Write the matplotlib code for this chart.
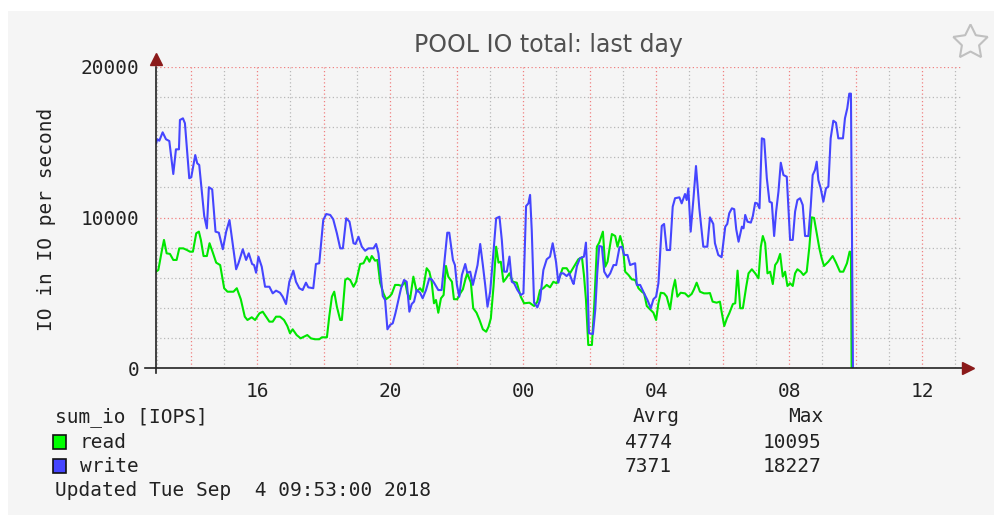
import matplotlib
matplotlib.use('Agg')
import matplotlib.pyplot as plt
from matplotlib.patches import Rectangle

# hours relative to 00:00 on Sep 4, values in IOPS
write_t = [-11.04, -11.00, -10.94, -10.84, -10.74, -10.64, -10.52, -10.44, -10.35, -10.32,
           -10.23, -10.17, -10.04, -9.98, -9.86, -9.80, -9.74, -9.59, -9.51, -9.45,
           -9.35, -9.25, -9.15, -9.03, -8.93, -8.83, -8.75, -8.63, -8.56, -8.43,
           -8.33, -8.25, -8.15, -8.09, -8.03, -7.96, -7.86, -7.76, -7.63, -7.53,
           -7.43, -7.31, -7.23, -7.13, -7.03, -6.91, -6.83, -6.73, -6.63, -6.53,
           -6.46, -6.31, -6.23, -6.13, -6.01, -5.92, -5.80, -5.71, -5.60, -5.50,
           -5.42, -5.32, -5.22, -5.10, -5.04, -4.95, -4.85, -4.75, -4.65, -4.50,
           -4.42, -4.35, -4.22, -4.15, -4.08, -4.00, -3.92, -3.84, -3.75, -3.67,
           -3.58, -3.50, -3.42, -3.35, -3.28, -3.20, -3.10, -3.02, -2.92, -2.82,
           -2.75, -2.68, -2.55, -2.45, -2.35, -2.28, -2.22, -2.11, -2.05, -1.99,
           -1.92, -1.84, -1.74, -1.68, -1.59, -1.51, -1.44, -1.37, -1.29, -1.21,
           -1.14, -1.07, -0.99, -0.89, -0.81, -0.71, -0.64, -0.57, -0.49, -0.41,
           -0.34, -0.27, -0.17, -0.07, 0.01, 0.09, 0.16, 0.21, 0.26, 0.33,
           0.43, 0.51, 0.61, 0.71, 0.81, 0.89, 0.99, 1.06, 1.13, 1.21,
           1.31, 1.39, 1.49, 1.52, 1.62, 1.71, 1.83, 1.89, 1.93, 1.98,
           2.10, 2.17, 2.23, 2.29, 2.37, 2.44, 2.54, 2.62, 2.72, 2.80,
           2.90, 2.97, 3.04, 3.14, 3.22, 3.30, 3.37, 3.42, 3.52, 3.64,
           3.74, 3.84, 3.92, 4.00, 4.07, 4.17, 4.24, 4.32, 4.42, 4.50,
           4.57, 4.70, 4.77, 4.87, 4.92, 4.97, 5.04, 5.12, 5.20, 5.30,
           5.42, 5.54, 5.62, 5.72, 5.77, 5.87, 5.97, 6.08, 6.14, 6.20,
           6.28, 6.35, 6.41, 6.48, 6.58, 6.63, 6.68, 6.75, 6.85, 6.91,
           6.98, 7.04, 7.11, 7.18, 7.25, 7.33, 7.41, 7.48, 7.55, 7.61,
           7.68, 7.75, 7.83, 7.93, 8.03, 8.11, 8.18, 8.25, 8.33, 8.41,
           8.48, 8.58, 8.65, 8.71, 8.78, 8.83, 8.88, 8.95, 9.03, 9.11,
           9.18, 9.25, 9.33, 9.41, 9.48, 9.62, 9.68, 9.75, 9.81, 9.86,
           9.92]
write_v = [14930, 15200, 15100, 15660, 15200, 15080, 12890, 14530, 14530, 16480,
           16590, 16260, 12610, 12670, 14150, 13600, 13490, 10100, 9280, 12010,
           11870, 9060, 8990, 7890, 9060, 9830, 8510, 6560, 6960, 7890,
           7180, 7620, 6910, 6840, 6330, 7400, 6730, 5400, 5400, 4960,
           5140, 5000, 4740, 4250, 5730, 6470, 5730, 5300, 5180, 5670,
           5360, 5300, 6910, 6960, 9830, 10230, 10170, 9880, 8950, 7950,
           7950, 9950, 9720, 8290, 8240, 8720, 8060, 7790, 7950, 7950,
           8240, 7620, 4780, 4520, 2570, 2860, 2970, 3630, 4520, 5300,
           5850, 5730, 3740, 4250, 4410, 5180, 5000, 4630, 5180, 5960,
           5890, 5670, 5180, 5180, 7400, 8990, 8990, 7180, 6840, 5520,
           4740, 6180, 6910, 6330, 6400, 5520, 6180, 6840, 8240, 6840,
           5520, 4070, 5070, 7730, 9950, 10050, 8510, 6400, 6400, 7400,
           5730, 5630, 5180, 4850, 4960, 10760, 10940, 11500, 9170, 4340,
           4030, 4520, 6510, 7220, 7400, 8290, 7060, 5670, 6290, 6290,
           6110, 6290, 5700, 5580, 6780, 7290, 7400, 8330, 6290, 2310,
           2260, 3850, 6290, 8110, 8060, 6400, 6030, 6290, 6840, 6840,
           8020, 8060, 7510, 7510, 6840, 6910, 6960, 5520, 5520, 4960,
           4520, 3970, 4570, 4740, 5630, 9440, 9570, 7840, 7840, 10720,
           11280, 11340, 10940, 11560, 11160, 11940, 9060, 11160, 13420, 10610,
           8060, 8060, 10010, 9570, 8290, 7510, 7360, 9390, 9570, 10280,
           10610, 10550, 9220, 8390, 9390, 9280, 10170, 9720, 9660, 10100,
           10980, 10940, 10610, 15260, 15200, 12610, 11050, 10980, 8770, 10390,
           11720, 13640, 12820, 12710, 8510, 8510, 10390, 11160, 11280, 10830,
           8770, 8770, 10720, 12820, 13160, 13710, 12490, 11940, 11050, 11940,
           12050, 15260, 16430, 16300, 15260, 15260, 16590, 17260, 18230, 18230,
           0]

read_t = [-11.04, -10.97, -10.87, -10.80, -10.72, -10.62, -10.52, -10.42, -10.34, -10.22,
          -10.11, -10.02, -9.93, -9.83, -9.75, -9.69, -9.61, -9.51, -9.43, -9.33,
          -9.23, -9.11, -8.99, -8.89, -8.71, -8.61, -8.49, -8.37, -8.29, -8.16,
          -8.06, -7.93, -7.83, -7.73, -7.63, -7.53, -7.43, -7.31, -7.19, -7.09,
          -7.01, -6.93, -6.81, -6.69, -6.59, -6.49, -6.38, -6.26, -6.13, -6.05,
          -5.90, -5.83, -5.75, -5.68, -5.60, -5.50, -5.45, -5.35, -5.28, -5.20,
          -5.10, -5.02, -4.90, -4.80, -4.70, -4.62, -4.55, -4.45, -4.38, -4.30,
          -4.20, -4.12, -4.02, -3.95, -3.85, -3.75, -3.65, -3.55, -3.48, -3.40,
          -3.30, -3.20, -3.10, -3.02, -2.90, -2.82, -2.75, -2.68, -2.62, -2.55,
          -2.47, -2.39, -2.32, -2.25, -2.14, -2.08, -1.98, -1.89, -1.81, -1.74,
          -1.68, -1.57, -1.50, -1.40, -1.31, -1.21, -1.11, -1.04, -0.97, -0.89,
          -0.81, -0.74, -0.67, -0.59, -0.51, -0.41, -0.31, -0.19, -0.07, 0.03,
          0.19, 0.33, 0.43, 0.51, 0.61, 0.71, 0.81, 0.91, 1.01, 1.11,
          1.19, 1.31, 1.41, 1.53, 1.66, 1.77, 1.83, 1.89, 1.96, 2.07,
          2.14, 2.22, 2.29, 2.40, 2.47, 2.54, 2.60, 2.67, 2.77, 2.84,
          2.92, 3.00, 3.07, 3.17, 3.27, 3.37, 3.47, 3.57, 3.64, 3.72,
          3.82, 3.92, 4.00, 4.07, 4.14, 4.24, 4.32, 4.42, 4.50, 4.57,
          4.64, 4.74, 4.87, 4.97, 5.07, 5.14, 5.22, 5.32, 5.44, 5.54,
          5.62, 5.70, 5.82, 5.92, 5.97, 6.05, 6.13, 6.20, 6.31, 6.38,
          6.45, 6.53, 6.61, 6.71, 6.78, 6.88, 6.98, 7.08, 7.15, 7.21,
          7.28, 7.35, 7.43, 7.51, 7.58, 7.65, 7.73, 7.81, 7.88, 7.95,
          8.03, 8.11, 8.18, 8.25, 8.35, 8.43, 8.53, 8.61, 8.68, 8.75,
          8.83, 8.91, 8.98, 9.05, 9.18, 9.31, 9.41, 9.53, 9.63, 9.74,
          9.82, 9.86, 9.88]
read_v = [6400, 6510, 7730, 8510, 7620, 7580, 7180, 7180, 7950, 7950,
          7840, 7730, 7730, 8950, 9060, 8510, 7440, 7440, 8290, 7660,
          7000, 6840, 5300, 5070, 5070, 5300, 4570, 3410, 3190, 3370,
          3190, 3630, 3740, 3410, 3080, 3080, 3410, 3410, 3190, 2790,
          2310, 2570, 2190, 1970, 2080, 2190, 1970, 1910, 1910, 2040,
          2040, 3410, 4740, 5070, 4070, 3190, 3190, 5850, 5960, 5850,
          5400, 5730, 6910, 6960, 7400, 7060, 7440, 7130, 7180, 5670,
          4960, 4570, 4740, 4920, 5520, 5520, 5450, 5730, 4960, 4570,
          6070, 5070, 5300, 5070, 6630, 6400, 5730, 4300, 4520, 3670,
          4630, 4850, 6780, 6070, 5730, 4570, 4570, 4960, 5230, 5850,
          6290, 5670, 3970, 3670, 3190, 2570, 2410, 2740, 3300, 5400,
          8060, 7000, 7060, 5730, 5960, 6290, 5730, 5670, 4740, 4300,
          4340, 4120, 4410, 5180, 5300, 5520, 5360, 5730, 5630, 6110,
          6630, 6630, 6290, 6730, 7220, 7360, 6180, 4570, 1530, 1530,
          4190, 8060, 8330, 9060, 6730, 7060, 7950, 8900, 8770, 8060,
          8770, 8110, 6400, 6180, 5890, 5850, 5300, 5070, 4960, 4120,
          3900, 3670, 3190, 4300, 5000, 4960, 4740, 3900, 5180, 5850,
          4740, 5000, 4960, 4740, 4920, 5230, 5670, 5070, 4960, 4960,
          4980, 4410, 4340, 4410, 3740, 2790, 3300, 3630, 4250, 4300,
          6470, 3970, 3970, 5400, 6290, 6560, 6290, 5960, 8060, 8770,
          8290, 6290, 6400, 5580, 6840, 7060, 7580, 6070, 6400, 5450,
          5630, 5450, 6290, 6560, 6400, 6180, 6400, 8060, 10010, 9970,
          8950, 7950, 7290, 6780, 7060, 7440, 7000, 6400, 6400, 6960,
          7730, 7710, 0]

tick_hours = [-8, -4, 0, 4, 8, 12]
tick_labels = ['16', '20', '00', '04', '08', '12']
y_ticks = [0, 10000, 20000]
series_names = ['read', 'write']
series_avg = ['4774', '7371']
series_max = ['10095', '18227']

W, H = 995, 515
mono = 'DejaVu Sans Mono'
bg = '#f5f5f5'


def fx(px):
    return px / W


def fy(py):
    return 1 - py / H


fig = plt.figure(figsize=(W / 100, H / 100), dpi=100, facecolor='white')
fig.patches.append(Rectangle((fx(8), 0), 1, fy(11), transform=fig.transFigure,
                             facecolor=bg, edgecolor='none', zorder=-10))

ax = fig.add_axes([fx(156), fy(368), fx(962) - fx(156), fy(67) - fy(368)])
ax.set_facecolor(bg)
ax.set_xlim(-11.04, 13.2)
ax.set_ylim(0, 20000)

# grid: gray minor, red major
for h in range(-11, 14):
    if h % 2 == 0:
        ax.axvline(h, color='#f08080', ls=(0, (1, 2)), lw=0.9, zorder=1)
    else:
        ax.axvline(h, color='#b8b8b8', ls=(0, (1, 2)), lw=0.9, zorder=1)
for v in range(2000, 20001, 2000):
    if v % 10000 == 0:
        ax.axhline(v, color='#f08080', ls=(0, (1, 2)), lw=0.9, zorder=1)
    else:
        ax.axhline(v, color='#b8b8b8', ls=(0, (1, 2)), lw=0.9, zorder=1)

ax.plot(read_t, read_v, color='#00e600', lw=1.5, zorder=3)
ax.plot(write_t, write_v, color='#4545ff', lw=1.5, zorder=4)

for s in ax.spines.values():
    s.set_visible(False)
# axis lines with arrows
ax.plot([-0.014, 1.0], [0, 0], transform=ax.transAxes, color='#222222', lw=1.2, clip_on=False, zorder=5)
ax.plot([0, 0], [-0.017, 1.0], transform=ax.transAxes, color='#222222', lw=1.2, clip_on=False, zorder=5)
ax.plot([1.008], [0], transform=ax.transAxes, marker='>', ms=8, color='#8b1a1a', clip_on=False, zorder=6)
ax.plot([0], [1.025], transform=ax.transAxes, marker='^', ms=8, color='#8b1a1a', clip_on=False, zorder=6)

ax.set_xticks(tick_hours)
ax.set_xticklabels(tick_labels, family=mono, fontsize=14, color='#222222')
ax.set_yticks(y_ticks)
ax.set_yticklabels([str(v) for v in y_ticks], family=mono, fontsize=14, color='#222222')
ax.tick_params(axis='both', length=0)
ax.tick_params(axis='x', pad=10)
ax.tick_params(axis='y', pad=12)

fig.text(fx(548), fy(45), 'POOL IO total: last day', ha='center', va='center',
         fontsize=17, color='#505050', family='DejaVu Sans')
fig.text(fx(47), fy(219), 'IO in IO per second', rotation=90, ha='center', va='center',
         fontsize=14, family=mono, color='#222222')
star_ax = fig.add_axes([fx(950), fy(62), fx(40), fy(0) - fy(40)])
star_ax.set_axis_off()
star_ax.plot([0.5], [0.5], marker=(5, 1), ms=26, mfc='none', mec='#c0c0c0', mew=1.5)
star_ax.set_xlim(0, 1)
star_ax.set_ylim(0, 1)

# legend block
fig.text(fx(55), fy(417), 'sum_io [IOPS]', ha='left', va='center', fontsize=14, family=mono, color='#222222')
fig.text(fx(633), fy(417), 'Avrg', ha='left', va='center', fontsize=14, family=mono, color='#222222')
fig.text(fx(788), fy(417), 'Max', ha='left', va='center', fontsize=14, family=mono, color='#222222')
colors = ['#00ff00', '#4545ff']
rows_y = [442, 466]
for name, avg, mx, c, ry in zip(series_names, series_avg, series_max, colors, rows_y):
    fig.patches.append(Rectangle((fx(53), fy(ry + 7)), fx(13), fy(0) - fy(14), transform=fig.transFigure,
                                 facecolor=c, edgecolor='#111111', lw=1.2))
    fig.text(fx(80), fy(ry), name, ha='left', va='center', fontsize=14, family=mono, color='#222222')
    fig.text(fx(625), fy(ry), avg, ha='left', va='center', fontsize=14, family=mono, color='#222222')
    fig.text(fx(821), fy(ry), mx, ha='right', va='center', fontsize=14, family=mono, color='#222222')
fig.text(fx(55), fy(491), 'Updated Tue Sep  4 09:53:00 2018', ha='left', va='center',
         fontsize=14, family=mono, color='#222222')

fig.savefig('out.png', dpi=100, facecolor=fig.get_facecolor())
